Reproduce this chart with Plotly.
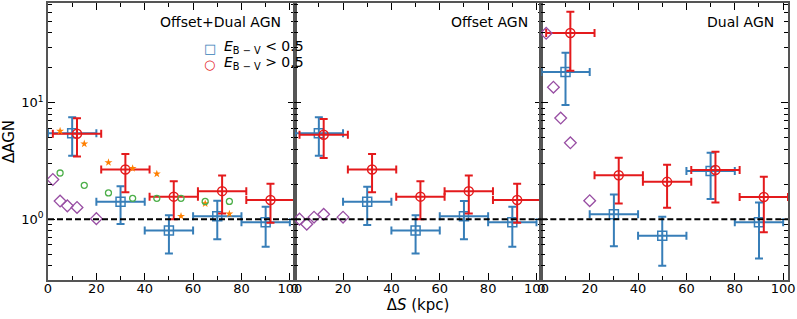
import plotly.graph_objects as go

# ---------------- data ----------------
panel_titles = ["Offset+Dual AGN", "Offset AGN", "Dual AGN"]
legend_labels = ["<i>E</i><sub>B − V</sub> &lt; 0.5", "<i>E</i><sub>B − V</sub> &gt; 0.5"]

bin_x_blue = [10, 30, 50, 70, 90]
bin_x_red = [12, 32, 52, 72, 92]
bin_halfwidth = [10, 10, 10, 10, 10]

# Offset+Dual AGN
od_blue_y = [5.46, 1.41, 0.80, 1.06, 0.94]
od_blue_hi = [7.49, 1.92, 1.08, 1.44, 1.28]
od_blue_lo = [3.50, 0.906, 0.507, 0.67, 0.58]
od_red_y = [5.41, 2.67, 1.56, 1.74, 1.46]
od_red_hi = [7.34, 3.62, 2.12, 2.37, 2.01]
od_red_lo = [3.45, 1.70, 1.00, 1.12, 0.93]

# Offset AGN
of_blue_y = [5.46, 1.41, 0.80, 1.06, 0.94]
of_blue_hi = [7.49, 1.90, 1.08, 1.43, 1.28]
of_blue_lo = [3.50, 0.89, 0.507, 0.67, 0.58]
of_red_y = [5.31, 2.67, 1.56, 1.74, 1.46]
of_red_hi = [7.24, 3.62, 2.12, 2.37, 2.01]
of_red_lo = [3.35, 1.70, 1.00, 1.12, 0.93]

# Dual AGN
du_blue_y = [18.4, 1.10, 0.72, 2.59, 0.94]
du_blue_hi = [26.9, 1.63, 1.05, 3.72, 1.39]
du_blue_lo = [9.55, 0.586, 0.397, 1.49, 0.46]
du_red_y = [39.7, 2.38, 2.09, 2.64, 1.55]
du_red_hi = [60.6, 3.37, 2.93, 3.79, 2.31]
du_red_lo = [18.8, 1.36, 1.25, 1.39, 0.77]

# extra points (first panel)
star_x = [5, 15, 25, 35, 45, 55, 65, 75]
star_y = [5.71, 4.44, 3.07, 2.73, 2.45, 1.06, 1.36, 1.11]
green_x = [5, 15, 25, 35, 45, 55, 65, 75]
green_y = [2.49, 1.95, 1.68, 1.51, 1.51, 1.51, 1.42, 1.42]

diamond_x = [2, 5, 8, 12, 20]
od_diamond_y = [2.19, 1.43, 1.30, 1.26, 1.01]
of_diamond_y = [1.00, 0.905, 1.04, 1.10, 1.04]
du_diamond_y = [39.5, 13.6, 7.39, 4.53, 1.44]

y_major = [1, 10]
y_major_text = ["10<sup>0</sup>", "10<sup>1</sup>"]

# ---------------- style ----------------
BLUE = "#377eb8"
RED = "#e41a1c"
GREEN = "#4daf4a"
PURPLE = "#984ea3"
ORANGE = "#ff7f00"
SPINE = "#555555"
FONT = "DejaVu Sans"

panels = [
    (od_blue_y, od_blue_hi, od_blue_lo, od_red_y, od_red_hi, od_red_lo, od_diamond_y),
    (of_blue_y, of_blue_hi, of_blue_lo, of_red_y, of_red_hi, of_red_lo, of_diamond_y),
    (du_blue_y, du_blue_hi, du_blue_lo, du_red_y, du_red_hi, du_red_lo, du_diamond_y),
]

fig = go.Figure()

for i, (by, bhi, blo, ry, rhi, rlo, dy) in enumerate(panels):
    xa = "x" if i == 0 else f"x{i+1}"
    ya = "y" if i == 0 else f"y{i+1}"
    fig.add_trace(go.Scatter(
        x=bin_x_blue, y=by, xaxis=xa, yaxis=ya, mode="markers", showlegend=False,
        marker=dict(symbol="square-open", size=9, color=BLUE, line=dict(width=1.5)),
        error_x=dict(type="data", array=bin_halfwidth, color=BLUE, thickness=2, width=4),
        error_y=dict(type="data", symmetric=False,
                     array=[h - v for h, v in zip(bhi, by)],
                     arrayminus=[v - l for l, v in zip(blo, by)],
                     color=BLUE, thickness=2, width=4),
    ))
    fig.add_trace(go.Scatter(
        x=bin_x_red, y=ry, xaxis=xa, yaxis=ya, mode="markers", showlegend=False,
        marker=dict(symbol="circle-open", size=9, color=RED, line=dict(width=1.5)),
        error_x=dict(type="data", array=bin_halfwidth, color=RED, thickness=2, width=4),
        error_y=dict(type="data", symmetric=False,
                     array=[h - v for h, v in zip(rhi, ry)],
                     arrayminus=[v - l for l, v in zip(rlo, ry)],
                     color=RED, thickness=2, width=4),
    ))
    if i == 0:
        fig.add_trace(go.Scatter(
            x=star_x, y=star_y, xaxis=xa, yaxis=ya, mode="markers", showlegend=False,
            marker=dict(symbol="star", size=6, color=ORANGE, line=dict(width=0)),
        ))
        fig.add_trace(go.Scatter(
            x=green_x, y=green_y, xaxis=xa, yaxis=ya, mode="markers", showlegend=False,
            marker=dict(symbol="circle-open", size=6, color=GREEN, line=dict(width=1.3)),
        ))
    fig.add_trace(go.Scatter(
        x=diamond_x, y=dy, xaxis=xa, yaxis=ya, mode="markers", showlegend=False,
        cliponaxis=False,
        marker=dict(symbol="diamond-open", size=9, color=PURPLE, line=dict(width=1.3)),
    ))
    # horizontal reference line at 1
    fig.add_shape(type="line", xref=f"{xa} domain", yref=ya, x0=0, x1=1, y0=1, y1=1,
                  line=dict(color="black", width=2, dash="6px,3px"))
    # panel title
    fig.add_annotation(text=panel_titles[i], xref=f"{xa} domain", yref=f"{ya} domain",
                       x=0.953, y=0.969, xanchor="right", yanchor="top", showarrow=False,
                       font=dict(family=FONT, size=14, color="black"))

# legend (symbols + labels as text)
legend_rows = [("□", BLUE, 0.835), ("○", RED, 0.7787)]
for (sym, col, yp), lab in zip(legend_rows, legend_labels):
    fig.add_annotation(text=sym, xref="paper", yref="paper", x=0.2189, y=yp,
                       xanchor="center", yanchor="middle", showarrow=False,
                       font=dict(family=FONT, size=13, color=col))
    fig.add_annotation(text=lab, xref="paper", yref="paper", x=0.2351, y=yp + 0.006,
                       xanchor="left", yanchor="middle", showarrow=False,
                       font=dict(family=FONT, size=14, color="black"))

L, R, T, B = 48, 9, 3, 39
W, H = 797, 319
pw = 1.0 / 3
axis_common = dict(
    showline=True, linecolor=SPINE, linewidth=1.5, mirror="ticks",
    ticks="inside", tickcolor="black", ticklen=7, tickwidth=1,
    showgrid=False, zeroline=False, automargin=False,
    tickfont=dict(family=FONT, size=13, color="black"),
)
for i in range(3):
    xk = "xaxis" if i == 0 else f"xaxis{i+1}"
    yk = "yaxis" if i == 0 else f"yaxis{i+1}"
    xdict = dict(axis_common, domain=[i * pw, (i + 1) * pw], range=[0, 102],
                 anchor="y" if i == 0 else f"y{i+1}",
                 tickmode="linear", tick0=0, dtick=20, ticklabelstandoff=-4,
                 minor=dict(ticks="inside", dtick=10, tick0=0, ticklen=4, tickcolor="black", tickwidth=1))
    if i == 1:
        xdict["title"] = dict(text="Δ<i>S</i> (kpc)", font=dict(family=FONT, size=15, color="black"), standoff=2)
    ydict = dict(axis_common, type="log", range=[-0.523, 1.857],
                 anchor="x" if i == 0 else f"x{i+1}",
                 tickmode="array", tickvals=y_major, ticktext=y_major_text,
                 showticklabels=(i == 0),
                 minor=dict(ticks="inside", dtick="D1", ticklen=4,
                            tickcolor="black", tickwidth=1))
    if i == 0:
        ydict["title"] = dict(text="ΔAGN", font=dict(family=FONT, size=15, color="black"), standoff=4)
    fig.update_layout({xk: xdict, yk: ydict})

fig.update_layout(
    width=W, height=H,
    margin=dict(l=L, r=R, t=T, b=B, pad=0),
    paper_bgcolor="white", plot_bgcolor="white",
    font=dict(family=FONT, size=13, color="black"),
    showlegend=False,
)

fig.write_html("out.html", config={"displayModeBar": False},
               post_script="document.body.style.margin='0';")
